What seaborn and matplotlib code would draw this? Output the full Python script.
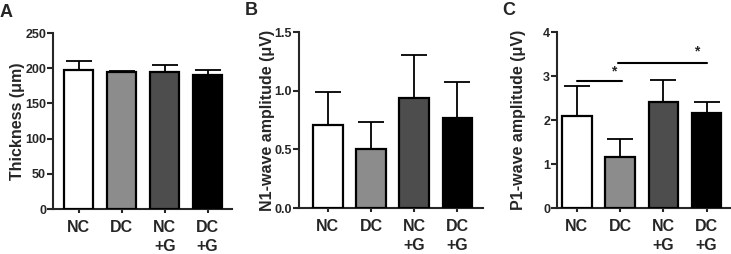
# %% data
import numpy as np
import pandas as pd
import seaborn as sns
import matplotlib.pyplot as plt

groups = ["NC", "DC", "NC\n+G", "DC\n+G"]
bar_colors = ["#ffffff", "#8c8c8c", "#4d4d4d", "#000000"]

thickness_mean = [198, 194, 195, 191]
thickness_sd = [12, 2, 10, 6]

n1_mean = [0.71, 0.50, 0.94, 0.77]
n1_sd = [0.28, 0.23, 0.36, 0.30]

p1_mean = [2.10, 1.15, 2.40, 2.15]
p1_sd = [0.68, 0.41, 0.50, 0.27]

# significance brackets in panel C: (x start, x end, y, star x, star y)
sig_lines = [(0.0, 1.04, 2.89, 0.85, 3.10), (0.95, 3.0, 3.30, 2.77, 3.55)]

# %% style
sns.set_style("ticks")
plt.rcParams["font.family"] = ["Liberation Sans", "DejaVu Sans"]
plt.rcParams["font.weight"] = "bold"
plt.rcParams["axes.labelweight"] = "bold"
plt.rcParams["axes.linewidth"] = 1.5

fig = plt.figure(figsize=(7.31, 2.54), dpi=100)
ax1 = fig.add_axes([0.0725, 0.177, 0.2445, 0.693])
ax2 = fig.add_axes([0.409, 0.181, 0.252, 0.693])
ax3 = fig.add_axes([0.762, 0.181, 0.236, 0.693])

panels = [
    (ax1, thickness_mean, thickness_sd, "Thickness (μm)", (0, 250), [0, 50, 100, 150, 200, 250], (-0.6, 3.56), -0.156),
    (ax2, n1_mean, n1_sd, "N1-wave amplitude (μV)", (0, 1.5), [0.0, 0.5, 1.0, 1.5], (-0.67, 3.6), -0.130),
    (ax3, p1_mean, p1_sd, "P1-wave amplitude (μV)", (0, 4), [0, 1, 2, 3, 4], (-0.46, 3.53), -0.179),
]

for ax, mean, sd, ylabel, ylim, yticks, xlim, label_x in panels:
    df = pd.DataFrame({"group": groups, "value": mean})
    sns.barplot(data=df, x="group", y="value", hue="group", palette=bar_colors,
                edgecolor="black", linewidth=1.6, width=0.68, legend=False, ax=ax, zorder=3)
    # upper error bars only
    xs = [p.get_x() + p.get_width() / 2 for p in ax.patches]
    ax.errorbar(xs, mean, yerr=[np.zeros(len(sd)), sd], fmt="none", ecolor="black",
                elinewidth=1.3, capsize=9.5, capthick=1.3, zorder=2)
    ax.set_ylim(*ylim)
    ax.set_yticks(yticks)
    if ylim[1] == 1.5:
        ax.set_yticklabels([f"{t:.1f}" for t in yticks])
    ax.set_xlim(*xlim)
    ax.set_xlabel("")
    ax.set_ylabel(ylabel, fontsize=11.5)
    ax.yaxis.set_label_coords(label_x, 0.5)
    ax.tick_params(axis="y", labelsize=9, length=4, width=1.5, pad=1)
    ax.tick_params(axis="x", labelsize=11.5, length=3, width=1.5, pad=5)
    for lab in ax.get_xticklabels():
        lab.set_linespacing(1.3)
        lab.set_verticalalignment("top")
    sns.despine(ax=ax)

# panel letters
fig.text(0 / 731, 1 - 4 / 254, "A", fontsize=13, fontweight="bold", va="top", ha="left")
fig.text(245 / 731, 1 - 2 / 254, "B", fontsize=13, fontweight="bold", va="top", ha="left")
fig.text(502 / 731, 1 - 2 / 254, "C", fontsize=13, fontweight="bold", va="top", ha="left")

for x0, x1, y, sx, sy in sig_lines:
    ax3.plot([x0, x1], [y, y], color="black", lw=1.5, clip_on=False)
    ax3.text(sx, sy, "*", ha="center", va="center", fontsize=10, fontweight="bold")

fig.savefig("out.png", dpi=100)
